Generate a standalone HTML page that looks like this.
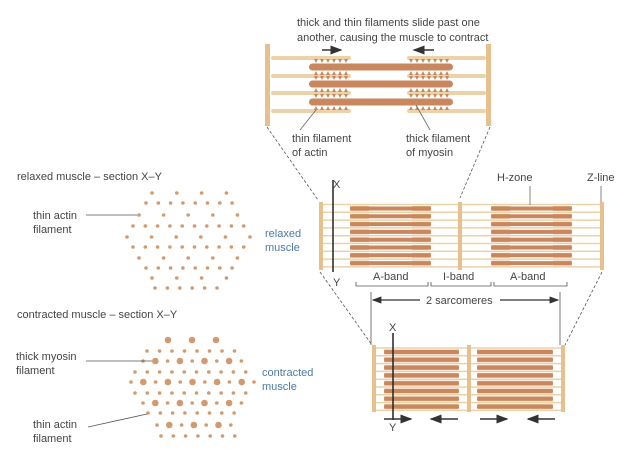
<!DOCTYPE html>
<html><head><meta charset="utf-8"><style>
body{margin:0;background:#fff;width:633px;height:449px;overflow:hidden}
svg{display:block}
text{font-family:"Liberation Sans",sans-serif;font-size:11px;fill:#444}
.b{fill:#4a7aaa}
</style></head><body>
<svg id="s" width="633" height="449" viewBox="0 0 633 449">
<defs><marker id="ah" markerWidth="8" markerHeight="6" refX="7" refY="3" orient="auto"><path d="M0,0L8,3L0,6z" fill="#333"/></marker></defs>
<g id="g"></g>
<text x="297" y="26">thick and thin filaments slide past one</text>
<text x="297" y="41">another, causing the muscle to contract</text>
<text x="292" y="142">thin filament</text><text x="292" y="156">of actin</text>
<text x="406" y="142">thick filament</text><text x="406" y="156">of myosin</text>
<text x="17" y="180">relaxed muscle – section X–Y</text>
<text x="33" y="219">thin actin</text><text x="33" y="233">filament</text>
<text x="265" y="237" class="b">relaxed</text><text x="265" y="251" class="b">muscle</text>
<text x="17" y="318">contracted muscle – section X–Y</text>
<text x="16" y="360">thick myosin</text><text x="16" y="374">filament</text>
<text x="262" y="376" class="b">contracted</text><text x="262" y="390" class="b">muscle</text>
<text x="33" y="428">thin actin</text><text x="33" y="442">filament</text>
<text x="333" y="188">X</text><text x="333" y="286">Y</text>
<text x="497" y="181">H-zone</text><text x="587" y="181">Z-line</text>
<text x="373" y="280">A-band</text><text x="443" y="280">I-band</text><text x="510" y="280">A-band</text>
<text x="426" y="304">2 sarcomeres</text>
<text x="389" y="331">X</text><text x="389" y="431">Y</text>
</svg>
<script>
var g=document.getElementById('g'),h='';
function r(x,y,w,hh,c,rx){h+='<rect x="'+x+'" y="'+y+'" width="'+w+'" height="'+hh+'" fill="'+c+'" rx="'+(rx||0)+'"/>';}
function l(a,b,c,d,col,w,extra){h+='<line x1="'+a+'" y1="'+b+'" x2="'+c+'" y2="'+d+'" stroke="'+col+'" stroke-width="'+w+'" '+(extra||'')+'/>';}
function c(x,y,rr){h+='<circle cx="'+x+'" cy="'+y+'" r="'+rr+'" fill="#d29a6e"/>';}
var TN='#ecd2a8',TK='#c8875e',ZB='#e8c08e',ZS='#b08a5a';
// top diagram
[58,76,93,111].forEach(function(y){r(271,y-2,80,4,TN,2);r(407,y-2,79,4,TN,2);});
[67,84,102].forEach(function(y){r(309,y-3.5,144,7,TK,3.5);
 for(var x=314;x<350;x+=6){h+='<path d="M'+x+','+(y-8)+'l2,4l2,-4z" fill="'+TK+'"/><path d="M'+x+','+(y+8)+'l2,-4l2,4z" fill="'+TK+'"/>';}
 for(var x=409;x<451;x+=6){h+='<path d="M'+x+','+(y-8)+'l2,4l2,-4z" fill="'+TK+'"/><path d="M'+x+','+(y+8)+'l2,-4l2,4z" fill="'+TK+'"/>';}});
r(265,44,5,82,ZB);r(486,44,5,82,ZB);
l(322,50,341,50,'#333',1.5,'marker-end="url(#ah)"');l(434,50,414,50,'#333',1.5,'marker-end="url(#ah)"');
l(300,130,316,110,'#666',0.8);l(430,130,416,105,'#666',0.8);
l(267,127,318,200,'#555',0.8,'stroke-dasharray="3,2"');l(490,127,460,198,'#555',0.8,'stroke-dasharray="3,2"');
// middle
for(var i=0;i<9;i++){var y=204.5+i*7.8;l(323,y,458,y,TN,1.5);l(462,y,600,y,TN,1.5);}
for(var i=0;i<8;i++){var y=208.5+i*7.8;r(350,y-2.5,19,5,'#e3b994');r(412,y-2.5,19,5,'#e3b994');r(350,y-2,81,4,TK,2);
 r(491,y-2.5,19,5,'#e3b994');r(553,y-2.5,19,5,'#e3b994');r(491,y-2,81,4,TK,2);}
r(319,202,4,68,ZB);r(458,202,4,68,ZB);r(600,202,4,68,ZB);
l(333,180,333,272,'#222',1.5);
h+='<path d="M356,282v4h72v-4M431,282v4h60v-4M494,282v4h73v-4" fill="none" stroke="#555" stroke-width="0.8"/>';
l(371,292,371,345,'#555',0.8);l(560,292,560,345,'#555',0.8);
l(420,300,373,300,'#333',1.2,'marker-end="url(#ah)"');l(500,300,558,300,'#333',1.2,'marker-end="url(#ah)"');
l(530,186,530,205,'#666',0.8);l(601,186,601,202,'#666',0.8);
l(320,272,372,345,'#555',0.8,'stroke-dasharray="3,2"');l(602,272,565,345,'#555',0.8,'stroke-dasharray="3,2"');
// bottom
for(var i=0;i<9;i++){var y=348+i*7.8;l(376,y,467,y,TN,1.5);l(471,y,561,y,TN,1.5);}
for(var i=0;i<8;i++){var y=352+i*7.8;r(384,y-2.5,75,5,'#e3b994');r(384,y-2,75,4,TK,2);r(477,y-2.5,76,5,'#e3b994');r(477,y-2,76,4,TK,2);}
r(372,345,4,67,ZB);r(467,345,4,67,ZB);r(561,345,4,67,ZB);
l(393,333,393,420,'#222',1.5);
l(384,419,411,419,'#333',1.5,'marker-end="url(#ah)"');l(458,419,431,419,'#333',1.5,'marker-end="url(#ah)"');
l(480,419,507,419,'#333',1.5,'marker-end="url(#ah)"');l(555,419,528,419,'#333',1.5,'marker-end="url(#ah)"');
// relaxed dots
function row(y,x0,n,dx,rr){for(var k=0;k<n;k++)c(x0+k*dx,y,rr);}
var ys=[193,203,215,226,237,247,258,268,278,288];
row(ys[0],152,4,24.8,1.8);row(ys[1],146,8,12.3,1.8);row(ys[2],139,5,24.6,1.8);row(ys[3],133,10,12.3,1.8);
row(ys[4],127,6,24.6,1.8);row(ys[5],133,10,12.3,1.8);row(ys[6],139,5,24.6,1.8);row(ys[7],146,8,12.3,1.8);
row(ys[8],152,4,24.8,1.8);row(ys[9],155,6,12.4,1.8);
l(86,215,137,215,'#555',0.8);
// contracted
row(340,168,3,24,3.3);row(351,147,8,12.5,1.8);
function alt(y,x0,n,startBig){for(var k=0;k<n;k++){var big=(k%2==1)!=startBig;c(x0+k*12.3,y,big?3.3:1.8);}}
alt(361,143,9,false);row(372,135,10,12.3,1.8);alt(382,131,11,false);row(393,135,10,12.3,1.8);
alt(403,143,9,false);row(413,148,8,12.3,1.8);alt(425,157,7,false);row(436,161,7,12.3,1.8);
l(86,361,152,361,'#555',0.8);l(88,427,147,414,'#555',0.8);
g.innerHTML=h;
</script>
</body></html>
